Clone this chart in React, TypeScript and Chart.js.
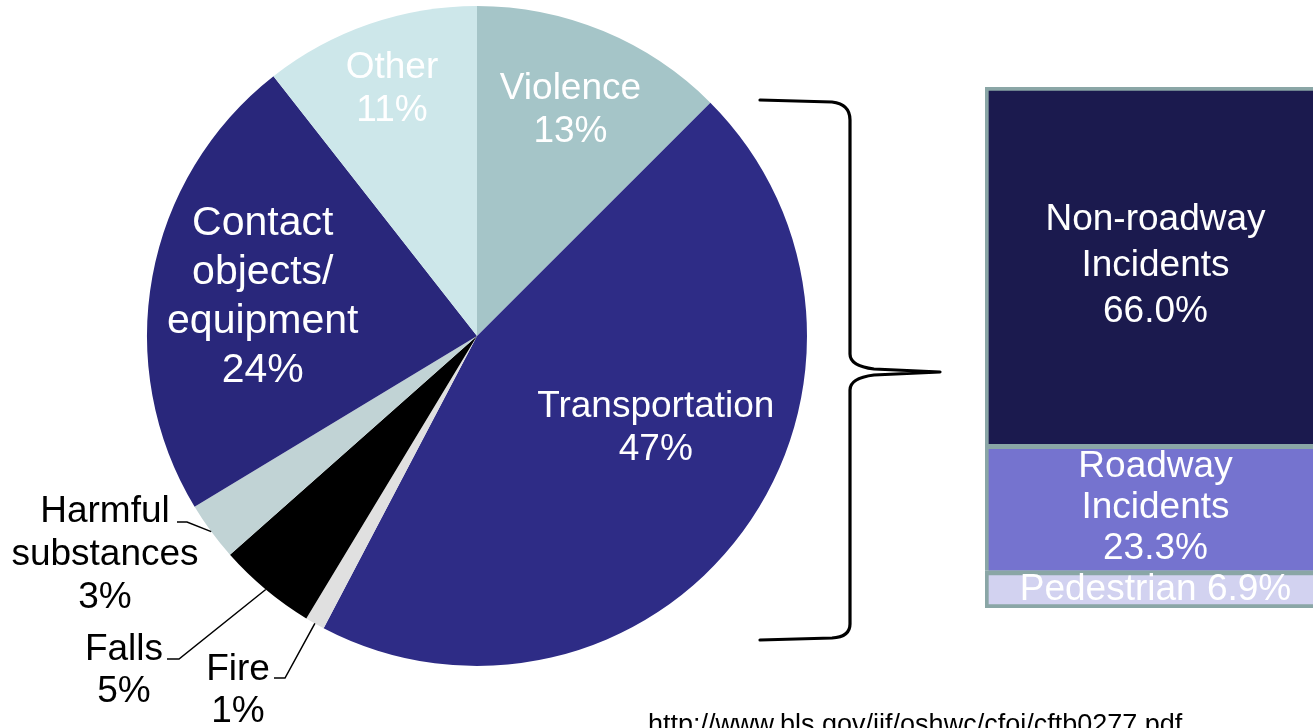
import { useEffect, useRef } from "react";
import { Chart, registerables } from "chart.js";

Chart.register(...registerables);

// Fatal occupational injuries by event (share of total, %)
const causeNames = [
  "Violence",
  "Transportation",
  "Fire",
  "Falls",
  "Harmful substances",
  "Contact objects/ equipment",
  "Other",
];
const causeShares = [13, 47, 1, 5, 3, 24, 11];

// Transportation incidents broken down (share, %), bottom to top
const transportNames = ["Pedestrian", "Roadway Incidents", "Non-roadway Incidents"];
const transportShares = [6.9, 23.3, 66.0];

const sourceNote = "http://www.bls.gov/iif/oshwc/cfoi/cftb0277.pdf";

const causeColors = ["#a5c5c8", "#2e2c86", "#e0e0e0", "#000000", "#c1d3d5", "#29277b", "#cde7ea"];
const transportColors = ["#d2d2f0", "#7573cf", "#1b1a4e"];
const transportLineGaps = [0, 41, 46];
const outlineColor = "#8aa6a6";
const FONT = '"Liberation Sans", Arial, sans-serif';

type Caption = {
  size: number;
  gap: number;
  color: string;
  inside?: { r: number; turn: number };
  outside?: { x: number; y: number; hook: [number, number, number] };
};

// caption layout for each slice, same order as causeNames
const captions: Caption[] = [
  { size: 37, gap: 43, color: "#ffffff", inside: { r: 0.74, turn: 0 } },
  { size: 37, gap: 43, color: "#ffffff", inside: { r: 0.61, turn: -9 } },
  { size: 37, gap: 42, color: "#000000", outside: { x: 238, y: 670, hook: [274, 285, 678] } },
  { size: 37, gap: 42, color: "#000000", outside: { x: 124, y: 650, hook: [167, 179, 659] } },
  { size: 37, gap: 43, color: "#000000", outside: { x: 105, y: 512, hook: [177, 187, 522] } },
  { size: 41, gap: 49, color: "#ffffff", inside: { r: 0.66, turn: 0 } },
  { size: 37, gap: 43, color: "#ffffff", inside: { r: 0.79, turn: 0 } },
];

const pieCaptions = {
  id: "pieCaptions",
  afterDatasetsDraw(chart: any) {
    const ctx = chart.ctx as CanvasRenderingContext2D;
    const meta = chart.getDatasetMeta(0);
    meta.data.forEach((arc: any, i: number) => {
      const { x, y, startAngle, endAngle, outerRadius } = arc.getProps(
        ["x", "y", "startAngle", "endAngle", "outerRadius"],
        true
      );
      const mid = (startAngle + endAngle) / 2;
      const cap = captions[i];
      const lines = [...causeNames[i].split(" "), `${causeShares[i]}%`];
      ctx.save();
      ctx.font = `${cap.size}px ${FONT}`;
      ctx.fillStyle = cap.color;
      ctx.textAlign = "center";
      ctx.textBaseline = "middle";
      if (cap.inside) {
        const a = mid + (cap.inside.turn * Math.PI) / 180;
        const cx = x + Math.cos(a) * outerRadius * cap.inside.r;
        const cy = y + Math.sin(a) * outerRadius * cap.inside.r;
        const y0 = cy - ((lines.length - 1) * cap.gap) / 2;
        lines.forEach((t, k) => ctx.fillText(t, cx, y0 + k * cap.gap));
      } else if (cap.outside) {
        const o = cap.outside;
        lines.forEach((t, k) => ctx.fillText(t, o.x, o.y + k * cap.gap));
        // leader line from caption to the slice edge
        const ex = x + Math.cos(mid) * outerRadius;
        const ey = y + Math.sin(mid) * outerRadius;
        ctx.strokeStyle = "#000000";
        ctx.lineWidth = 1.5;
        ctx.beginPath();
        ctx.moveTo(o.hook[0], o.hook[2]);
        ctx.lineTo(o.hook[1], o.hook[2]);
        ctx.lineTo(ex, ey);
        ctx.stroke();
      }
      ctx.restore();
    });
  },
  afterDraw(chart: any) {
    const ctx = chart.ctx as CanvasRenderingContext2D;
    ctx.save();
    // curly brace joining the transportation slice to its breakdown
    ctx.strokeStyle = "#000000";
    ctx.lineWidth = 3.2;
    ctx.lineJoin = "round";
    ctx.lineCap = "round";
    ctx.beginPath();
    ctx.moveTo(760, 100);
    ctx.lineTo(832, 102);
    ctx.quadraticCurveTo(850, 104, 850, 120);
    ctx.lineTo(850, 354);
    ctx.quadraticCurveTo(850, 366, 874, 369);
    ctx.lineTo(940, 372);
    ctx.lineTo(874, 375);
    ctx.quadraticCurveTo(850, 378, 850, 390);
    ctx.lineTo(850, 624);
    ctx.quadraticCurveTo(850, 637, 832, 638);
    ctx.lineTo(760, 640);
    ctx.stroke();
    // source note
    ctx.font = `27px ${FONT}`;
    ctx.fillStyle = "#000000";
    ctx.textAlign = "left";
    ctx.textBaseline = "alphabetic";
    ctx.fillText(sourceNote, 648, 733);
    ctx.restore();
  },
};

const barCaptions = {
  id: "barCaptions",
  afterDatasetsDraw(chart: any) {
    const ctx = chart.ctx as CanvasRenderingContext2D;
    ctx.save();
    ctx.font = `37px ${FONT}`;
    ctx.fillStyle = "#ffffff";
    ctx.textAlign = "center";
    ctx.textBaseline = "middle";
    transportNames.forEach((name, d) => {
      const el = chart.getDatasetMeta(d).data[0];
      const { x, y, base } = el.getProps(["x", "y", "base"], true);
      const cy = (y + base) / 2;
      const pct = `${transportShares[d].toFixed(1)}%`;
      const lines = d === 0 ? [`${name} ${pct}`] : [...name.split(" "), pct];
      const gap = transportLineGaps[d];
      const y0 = cy - ((lines.length - 1) * gap) / 2;
      lines.forEach((t, k) => ctx.fillText(t, x - 2, y0 + k * gap));
    });
    ctx.restore();
  },
};

export default function App() {
  const pieRef = useRef<HTMLCanvasElement>(null);
  const barRef = useRef<HTMLCanvasElement>(null);

  useEffect(() => {
    const pie = new Chart(pieRef.current!, {
      type: "pie",
      data: {
        labels: causeNames,
        datasets: [
          {
            data: causeShares,
            backgroundColor: causeColors,
            borderWidth: 0,
            hoverOffset: 0,
            offset: 0,
          },
        ],
      },
      options: {
        responsive: false,
        animation: false,
        layout: { padding: { left: 147, top: 6, right: 506, bottom: 62 } },
        plugins: { legend: { display: false }, tooltip: { enabled: false } },
        events: [],
      },
      plugins: [pieCaptions],
    });

    const total = transportShares.reduce((s, v) => s + v, 0);
    const bar = new Chart(barRef.current!, {
      type: "bar",
      data: {
        labels: ["Transportation"],
        datasets: transportNames.map((name, d) => ({
          label: name,
          data: [transportShares[d]],
          backgroundColor: transportColors[d],
          borderColor: outlineColor,
          borderWidth:
            d === 0
              ? { top: 5, left: 4, right: 4, bottom: 4 }
              : { top: d === transportNames.length - 1 ? 4 : 5, left: 4, right: 4, bottom: 0 },
          borderSkipped: false as any,
          categoryPercentage: 1,
          barPercentage: 1,
        })),
      },
      options: {
        responsive: false,
        animation: false,
        layout: { padding: 0 },
        scales: {
          x: { stacked: true, display: false },
          y: { stacked: true, display: false, min: 0, max: total },
        },
        plugins: { legend: { display: false }, tooltip: { enabled: false } },
        events: [],
      },
      plugins: [barCaptions],
    });

    return () => {
      pie.destroy();
      bar.destroy();
    };
  }, []);

  return (
    <div
      style={{
        position: "absolute",
        left: 0,
        top: 0,
        width: 1313,
        height: 728,
        overflow: "hidden",
        background: "#ffffff",
      }}
    >
      <canvas
        ref={pieRef}
        width={1313}
        height={728}
        style={{ position: "absolute", left: 0, top: 0, width: 1313, height: 728 }}
      />
      <canvas
        ref={barRef}
        width={345}
        height={521}
        style={{ position: "absolute", left: 985, top: 87, width: 345, height: 521 }}
      />
    </div>
  );
}
